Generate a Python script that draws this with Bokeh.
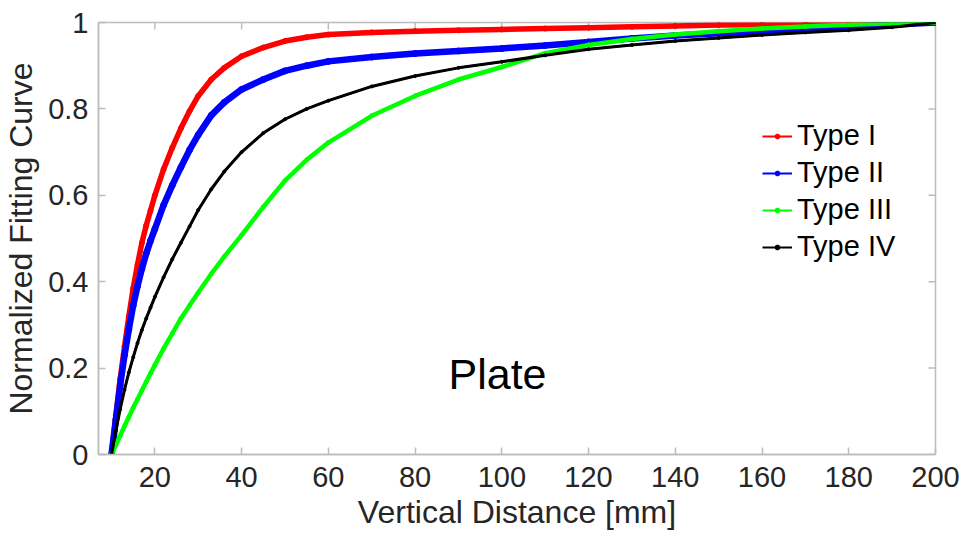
from bokeh.plotting import figure
from bokeh.models import Range1d, FixedTicker, Legend, LegendItem, CustomJSTickFormatter
from bokeh.core.properties import value
from bokeh.embed import file_html
from bokeh.resources import INLINE

# Vertical distance [mm] at which each curve is sampled
distance = [10, 11, 12, 13, 14, 15, 16, 17, 18, 19, 20, 22, 24, 26, 28, 30, 33, 36,
            40, 45, 50, 55, 60, 70, 80, 90, 100, 110, 120, 130, 140, 150, 160, 170,
            180, 190, 200]

type_i = [0.000, 0.090, 0.175, 0.250, 0.320, 0.385, 0.440, 0.490, 0.530, 0.565,
          0.600, 0.660, 0.710, 0.755, 0.795, 0.830, 0.868, 0.895, 0.922, 0.942,
          0.957, 0.966, 0.972, 0.977, 0.980, 0.982, 0.984, 0.986, 0.988, 0.990,
          0.992, 0.994, 0.995, 0.996, 0.997, 0.998, 1.000]

type_ii = [0.000, 0.080, 0.160, 0.230, 0.290, 0.345, 0.390, 0.430, 0.465, 0.495,
           0.522, 0.577, 0.623, 0.665, 0.705, 0.740, 0.785, 0.815, 0.845, 0.868,
           0.888, 0.900, 0.910, 0.920, 0.928, 0.934, 0.940, 0.947, 0.955, 0.963,
           0.970, 0.975, 0.980, 0.985, 0.990, 0.995, 1.000]

type_iii = [0.000, 0.022, 0.044, 0.066, 0.087, 0.108, 0.128, 0.148, 0.168, 0.188,
            0.207, 0.245, 0.280, 0.315, 0.345, 0.375, 0.418, 0.458, 0.508, 0.573,
            0.634, 0.682, 0.722, 0.784, 0.830, 0.868, 0.897, 0.929, 0.948, 0.962,
            0.972, 0.980, 0.986, 0.991, 0.995, 0.998, 1.000]

type_iv = [0.000, 0.055, 0.105, 0.150, 0.190, 0.225, 0.258, 0.288, 0.315, 0.340,
           0.365, 0.410, 0.452, 0.490, 0.528, 0.566, 0.614, 0.655, 0.700, 0.744,
           0.776, 0.800, 0.819, 0.852, 0.876, 0.895, 0.909, 0.924, 0.938, 0.948,
           0.957, 0.964, 0.971, 0.977, 0.982, 0.989, 1.000]

series_names = ["Type I", "Type II", "Type III", "Type IV"]
series_values = [type_i, type_ii, type_iii, type_iv]
series_colors = ["#ff0000", "#0000ff", "#00ff00", "#000000"]
band_widths = [5.5, 6.5, 4.5, 3]
marker_sizes = [5, 6, 4, 3]

x_ticks = [20, 40, 60, 80, 100, 120, 140, 160, 180, 200]
y_ticks = [0, 0.2, 0.4, 0.6, 0.8, 1.0]

FONT = "Liberation Sans"
TEXT_DARK = "#262626"
AXIS_GREY = "#bdbdbd"

p = figure(frame_width=837, frame_height=432,
           x_range=Range1d(7, 200), y_range=Range1d(0, 1),
           output_backend="svg", toolbar_location=None,
           min_border_left=98, min_border_right=28,
           min_border_top=22, min_border_bottom=86,
           x_axis_label="Vertical Distance [mm]",
           y_axis_label="Normalized Fitting Curve")
p.outline_line_color = AXIS_GREY
p.outline_line_width = 1.5
p.background_fill_color = "white"
p.border_fill_color = "white"
p.xgrid.visible = False
p.ygrid.visible = False

for ax, ticks in ((p.xaxis[0], x_ticks), (p.yaxis[0], y_ticks)):
    ax.ticker = FixedTicker(ticks=ticks)
    ax.axis_line_color = AXIS_GREY
    ax.axis_line_width = 1.5
    ax.major_tick_line_color = AXIS_GREY
    ax.major_tick_line_width = 1.5
    ax.major_tick_in = 7
    ax.major_tick_out = 0
    ax.minor_tick_line_color = None
    ax.major_label_text_font = FONT
    ax.major_label_text_font_size = "29px"
    ax.major_label_text_color = TEXT_DARK
    ax.axis_label_text_font = FONT
    ax.axis_label_text_font_size = "32px"
    ax.axis_label_text_font_style = "normal"
    ax.axis_label_text_color = TEXT_DARK

p.yaxis[0].formatter = CustomJSTickFormatter(
    code="return tick.toFixed(1).replace(/\\.0$/, '');")
p.xaxis[0].major_label_standoff = 12
p.xaxis[0].axis_label_standoff = 4
p.yaxis[0].major_label_standoff = 10
p.yaxis[0].axis_label_standoff = 6

# Inward tick marks mirrored on the top and right edges of the box
p.ray(x=x_ticks, y=1, length=7, length_units="screen", angle=-90,
      angle_units="deg", line_color=AXIS_GREY, line_width=1.5)
p.ray(x=200, y=y_ticks, length=7, length_units="screen", angle=180,
      angle_units="deg", line_color=AXIS_GREY, line_width=1.5)

items = []
for name, vals, color, bw, ms in zip(series_names, series_values, series_colors,
                                     band_widths, marker_sizes):
    p.line(distance, vals, line_color=color, line_width=bw)
    thin = p.line(distance, vals, line_color=color, line_width=2)
    dots = p.scatter(distance, vals, marker="circle", size=ms,
                     fill_color=color, line_color=color)
    items.append(LegendItem(label=name, renderers=[thin, dots]))

legend = Legend(items=items, location=(664, 191),
                border_line_color=None, background_fill_alpha=0,
                label_text_font=FONT, label_text_font_size="29px",
                label_text_color="black",
                glyph_width=30, glyph_height=12, label_height=30,
                label_standoff=5, spacing=4, padding=0, margin=0)
p.add_layout(legend)

p.text(x=[87.7], y=[0.186], text=["Plate"], text_font=value(FONT),
       text_font_size="43px", text_color="black",
       text_align="left", text_baseline="alphabetic")

open("out.html", "w").write(file_html(p, INLINE))
